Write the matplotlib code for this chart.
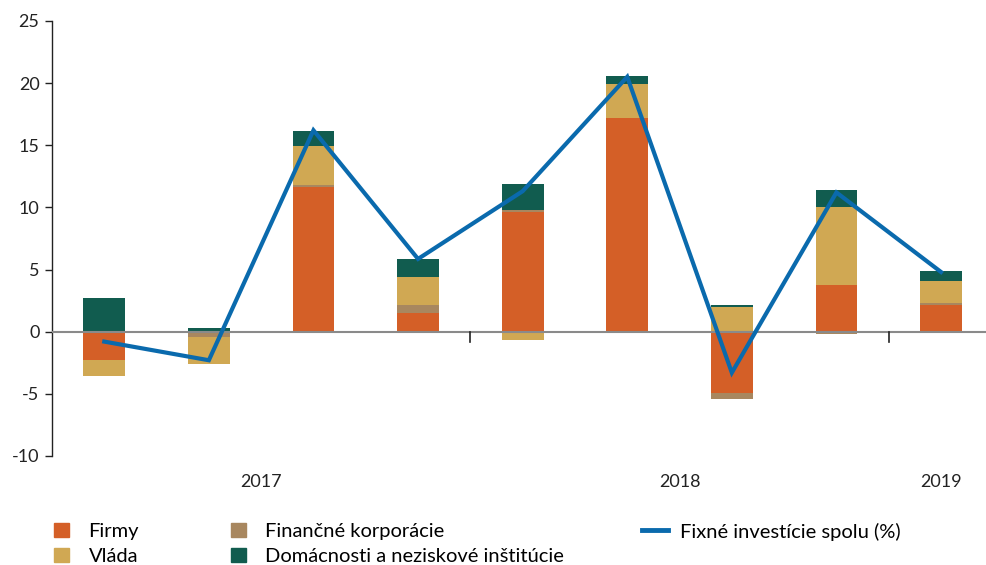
import matplotlib
matplotlib.use("Agg")
import matplotlib.pyplot as plt
import matplotlib.transforms as mtransforms
from matplotlib.patches import Patch
from matplotlib.lines import Line2D

plt.rcParams['font.family'] = ['Lato', 'DejaVu Sans']

quarters = ["2017Q1", "2017Q2", "2017Q3", "2017Q4", "2018Q1", "2018Q2", "2018Q3", "2018Q4", "2019Q1"]
firmy = [-2.28, -0.1, 11.6, 1.5, 9.6, 17.2, -4.9, 3.75, 2.15]
financne = [0.0, -0.3, 0.2, 0.65, 0.15, -0.1, -0.5, -0.15, 0.15]
vlada = [-1.26, -2.2, 3.1, 2.25, -0.65, 2.75, 1.98, 6.25, 1.8]
domacnosti = [2.7, 0.3, 1.25, 1.45, 2.15, 0.65, 0.17, 1.4, 0.8]
spolu = [-0.8, -2.3, 16.2, 5.85, 11.3, 20.5, -3.3, 11.2, 4.8]

years = ["2017", "2018", "2019"]
year_pos = [1.5, 5.5, 8.0]
year_dividers = [3.5, 7.5]

series = [
    ("Firmy", firmy, "#D45F27"),
    ("Finančné korporácie", financne, "#A8875F"),
    ("Vláda", vlada, "#D0A853"),
    ("Domácnosti a neziskové inštitúcie", domacnosti, "#115C4F"),
]
line_color = "#0A6AAD"

fig = plt.figure(figsize=(9.86, 5.65), dpi=100)
ax = fig.add_axes([0.0527, 0.193, 0.9473, 0.770])

x = list(range(len(quarters)))
pos_b = [0.0] * len(x)
neg_b = [0.0] * len(x)
for name, vals, col in series:
    bottoms = []
    for i, v in enumerate(vals):
        if v >= 0:
            bottoms.append(pos_b[i])
            pos_b[i] += v
        else:
            bottoms.append(neg_b[i])
            neg_b[i] += v
    ax.bar(x, vals, bottom=bottoms, width=0.4, color=col, zorder=2)

ax.axhline(0, color="#8a8a8a", lw=1.5, zorder=3)
ax.plot(x, spolu, color=line_color, lw=3, zorder=4, solid_joinstyle='miter')

ax.set_xlim(-0.5, 8.43)
ax.set_ylim(-10, 25)
ax.set_yticks([-10, -5, 0, 5, 10, 15, 20, 25])
ax.set_yticklabels(["-10", "-5", "0", "5", "10", "15", "20", "25"])
ax.set_xticks([])
for s in ["top", "right", "bottom"]:
    ax.spines[s].set_visible(False)
ax.spines["left"].set_color("#222222")
ax.spines["left"].set_linewidth(1)
ax.tick_params(axis="y", direction="out", length=5, width=1, labelsize=13, colors="#222222", pad=4)

for d in year_dividers:
    ax.plot([d, d], [0, -0.8], color="#222222", lw=1.2, zorder=3, clip_on=False)

trans = mtransforms.blended_transform_factory(ax.transData, ax.transAxes)
for yl, xp in zip(years, year_pos):
    ax.text(xp, -0.06, yl, transform=trans, ha="center", va="center", fontsize=13, color="#222222")

lkw = dict(frameon=False, fontsize=14.5, handlelength=0.75, handleheight=0.75, labelspacing=0.38,
           handletextpad=0.95, borderpad=0, borderaxespad=0)
h1 = [Patch(color=series[0][2]), Patch(color=series[2][2])]
fig.legend(h1, ["Firmy", "Vláda"], loc="upper left", bbox_to_anchor=(0.055, 0.075), **lkw)
h2 = [Patch(color=series[1][2]), Patch(color=series[3][2])]
fig.legend(h2, ["Finančné korporácie", "Domácnosti a neziskové inštitúcie"], loc="upper left",
           bbox_to_anchor=(0.234, 0.075), **lkw)
h3 = [Line2D([0], [0], color=line_color, lw=3.5)]
kw3 = dict(lkw)
kw3["handlelength"] = 1.3
kw3["handletextpad"] = 0.6
fig.legend(h3, ["Fixné investície spolu (%)"], loc="upper left", bbox_to_anchor=(0.651, 0.075), **kw3)

fig.savefig("out.png", dpi=100)
